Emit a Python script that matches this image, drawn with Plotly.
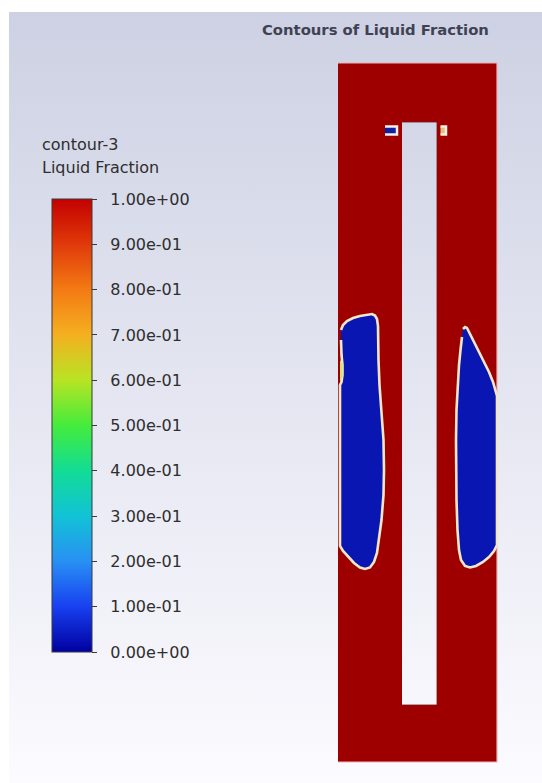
import plotly.graph_objects as go

# ---------------- data (model units, mm; origin = bottom-left of the domain) ----------
domain_x = [0, 159, 159, 0]
domain_y = [0, 0, 699, 699]

hole_x = [64, 99, 99, 64]
hole_y = [57, 57, 640, 640]

# solid (liquid fraction ~ 0) regions
left_blob_x = [3, 5, 9, 15, 22, 29, 34, 37, 39, 40, 40, 40.5, 41.5, 43.5, 45.5, 46, 45.5, 43.5, 41, 39,
               36, 32, 27, 22, 16, 10, 5, 2, 2, 3.5, 4.5, 4.5, 3.5, 3]
left_blob_y = [432, 437, 441, 444, 446, 447.5, 448, 446.5, 443, 436, 422, 402, 377, 352, 322, 292, 267,
               242, 222, 209, 200, 194.5, 193, 194.5, 199, 205, 211, 216, 377, 380, 387, 397, 407, 422]

right_blob_x = [125, 127, 129, 132, 136, 141, 146, 151, 155, 158, 159, 159, 156, 151, 145, 138, 132,
                127, 123, 121, 119.5, 118.5, 118, 118, 118.5, 119.5, 121, 122.5, 124]
right_blob_y = [433, 435, 434, 428, 420, 411, 401, 390, 380, 371, 366, 217, 211, 205, 200, 196, 194.5,
                196, 202, 212, 232, 262, 292, 322, 352, 377, 397, 412, 425]

mushy_x = [2, 4.5, 4.5, 2]
mushy_y = [380, 385, 398, 402]

small_left_x = [47, 59, 59, 47]
small_left_y = [627.5, 627.5, 635.5, 635.5]
small_right_x = [102.5, 108, 108, 102.5]
small_right_y = [627.5, 627.5, 635.5, 635.5]

cbar_vals = [0.0, 0.1, 0.2, 0.3, 0.4, 0.5, 0.6, 0.7, 0.8, 0.9, 1.0]
cbar_text = ["0.00e+00", "1.00e-01", "2.00e-01", "3.00e-01", "4.00e-01", "5.00e-01",
             "6.00e-01", "7.00e-01", "8.00e-01", "9.00e-01", "1.00e+00"]

# ---------------- styling -----------------------------------------------------------
W, H = 542, 783
X0, Y0 = 338, 762          # pixel position of model origin
XR = [-X0, W - X0]
YR = [Y0 - H, Y0]

fluent = [[0.0, "#0000a0"], [0.1, "#1840f0"], [0.2, "#2890f4"], [0.3, "#12c2d6"],
          [0.4, "#12dc96"], [0.5, "#44ec3c"], [0.6, "#b8e424"], [0.7, "#f4b020"],
          [0.8, "#f47a14"], [0.9, "#e03a0a"], [1.0, "#c40000"]]

bg_grad = dict(type="vertical", colorscale=[[0, "#fcfbff"], [1, "#cdd1e3"]],
               start=YR[0], stop=Y0 - 12)

RED = "#9e0000"
BLUE = "#0a16b2"
EDGE = "#f3e7c8"

fig = go.Figure()

# background gradient
fig.add_trace(go.Scatter(x=[-(X0 - 9), XR[1], XR[1], -(X0 - 9)],
                         y=[YR[0], YR[0], Y0 - 12, Y0 - 12],
                         fill="toself", fillgradient=bg_grad, mode="none",
                         hoverinfo="skip", showlegend=False))

# liquid region
fig.add_trace(go.Scatter(x=domain_x, y=domain_y, fill="toself", fillcolor=RED,
                         mode="lines", line=dict(color="#e9b4b4", width=1.2),
                         hoverinfo="skip", showlegend=False))
# inner hole (not part of the domain)
fig.add_trace(go.Scatter(x=hole_x, y=hole_y, fill="toself", fillgradient=bg_grad,
                         mode="lines", line=dict(color="#7a1010", width=0.8),
                         hoverinfo="skip", showlegend=False))

# solid blobs
for bx, by in [(left_blob_x, left_blob_y), (right_blob_x, right_blob_y)]:
    fig.add_trace(go.Scatter(x=bx, y=by, fill="toself", fillcolor=BLUE,
                             mode="lines", line=dict(color=EDGE, width=2.6),
                             hoverinfo="skip", showlegend=False))

fig.add_trace(go.Scatter(x=mushy_x, y=mushy_y, fill="toself", fillcolor="#d6e27a",
                         mode="none", hoverinfo="skip", showlegend=False))

fig.add_trace(go.Scatter(x=small_left_x, y=small_left_y, fill="toself", fillcolor="#1020a0",
                         mode="lines", line=dict(color="#f4f0e8", width=2.5),
                         hoverinfo="skip", showlegend=False))
fig.add_trace(go.Scatter(x=small_right_x, y=small_right_y, fill="toself", fillcolor="#e0c080",
                         mode="lines", line=dict(color="#f6eede", width=2.5),
                         hoverinfo="skip", showlegend=False))

# colour bar carrier (points lie outside the visible range)
fig.add_trace(go.Scatter(x=[XR[0] - 100, XR[0] - 100], y=[0, 0], mode="markers",
                         marker=dict(color=[0, 1], colorscale=fluent, cmin=0, cmax=1, size=1,
                                     showscale=True,
                                     colorbar=dict(
                                         x=52 / W, xanchor="left", xpad=0,
                                         y=(H - 652) / H, yanchor="bottom", ypad=0,
                                         len=(652 - 199) / H, lenmode="fraction",
                                         thickness=40, thicknessmode="pixels",
                                         outlinewidth=1, outlinecolor="#3a3a3a",
                                         tickmode="array", tickvals=cbar_vals,
                                         ticktext=["\u00a0\u00a0" + t for t in cbar_text],
                                         ticks="outside", ticklen=5, tickwidth=1, tickcolor="#3a3a3a",
                                         tickfont=dict(family="DejaVu Sans", size=16, color="#2e2e2e"),
                                     )),
                         hoverinfo="skip", showlegend=False))

annots = [
    dict(text="Contours of Liquid Fraction", x=375.5 / W, y=1 - 30 / H,
         font=dict(family="DejaVu Sans", size=14.8, color="#3e4252", weight="bold"),
         xanchor="center"),
    dict(text="contour-3", x=40 / W, y=1 - 145 / H,
         font=dict(family="DejaVu Sans", size=16, color="#2e2e2e"), xanchor="left"),
    dict(text="Liquid Fraction", x=40 / W, y=1 - 167 / H,
         font=dict(family="DejaVu Sans", size=16, color="#2e2e2e"), xanchor="left"),
]
for a in annots:
    fig.add_annotation(xref="paper", yref="paper", yanchor="middle", showarrow=False, **a)

fig.update_layout(
    width=W, height=H, margin=dict(l=0, r=0, t=0, b=0), autosize=False,
    paper_bgcolor="white", plot_bgcolor="white",
    xaxis=dict(range=XR, visible=False, fixedrange=True),
    yaxis=dict(range=YR, visible=False, fixedrange=True),
    showlegend=False,
)

fig.write_html("out.html")
